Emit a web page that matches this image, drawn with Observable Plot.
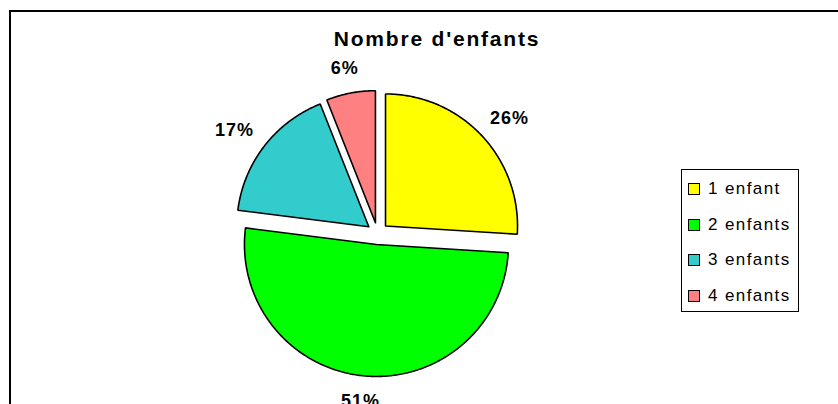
<!DOCTYPE html>
<html>
<head>
<meta charset="utf-8">
<script src="https://cdn.jsdelivr.net/npm/d3@7"></script>
<script src="https://cdn.jsdelivr.net/npm/@observablehq/plot@0.6"></script>
<style>
  body { margin: 0; background: #fff; font-family: Arial, "Liberation Sans", sans-serif; }
  #wrap { position: relative; width: 838px; height: 404px; overflow: hidden; background: #fff; }
  #frame { position: absolute; left: 9px; top: 10px; width: 900px; height: 500px;
           border-left: 2px solid #000; border-top: 2px solid #000; }
  #title { position: absolute; left: 0; width: 874px; top: 27px; text-align: center;
           font-weight: bold; font-size: 21px; letter-spacing: 1.8px; color: #000; }
  #chart { position: absolute; left: 0; top: 0; }
  #chart svg text { letter-spacing: 1px; }
  #legend { position: absolute; left: 681px; top: 169px; width: 116px; height: 141px;
            border: 1px solid #000; background: #fff; }
  .item { position: absolute; left: 0; height: 20px; display: flex; align-items: center;
          font-size: 17px; letter-spacing: 1.4px; color: #000; }
  .sw { width: 10px; height: 10px; border: 1.5px solid #000; margin-left: 6px; margin-right: 8px; }
</style>
</head>
<body>
<div id="wrap">
  <div id="frame"></div>
  <div id="title">Nombre d'enfants</div>
  <div id="chart"></div>
  <div id="legend"></div>
</div>
<script>
const categories = ["1 enfant", "2 enfants", "3 enfants", "4 enfants"];
const shares = [26, 51, 17, 6];
const labels = ["26%", "51%", "17%", "6%"];
const colors = ["#FFFF00", "#00FF00", "#33CCCC", "#FF8080"];

const W = 838, H = 404;
const cx = 377, cy = 233, R = 132, explode = 11;

const rows = categories.map((c, i) => ({cat: c, share: shares[i], label: labels[i]}));
const arcs = d3.pie().sort(null).value(d => d.share)(rows);

const pts = [];
const labelPts = [];
for (const a of arcs) {
  const mid = (a.startAngle + a.endAngle) / 2;
  const ox = explode * Math.sin(mid), oy = -explode * Math.cos(mid);
  pts.push({cat: a.data.cat, x: ox, y: oy});
  const n = Math.max(2, Math.ceil((a.endAngle - a.startAngle) / 0.01));
  for (let k = 0; k <= n; k++) {
    const t = a.startAngle + (a.endAngle - a.startAngle) * k / n;
    pts.push({cat: a.data.cat, x: ox + R * Math.sin(t), y: oy - R * Math.cos(t)});
  }
  pts.push({cat: a.data.cat, x: ox, y: oy});
  const hw = a.data.label.length * 6.5, hh = 7, gap = 18.5;
  labelPts.push({
    label: a.data.label,
    x: (R + explode + gap + hw) * Math.sin(mid),
    y: -(R + explode + gap + hh) * Math.cos(mid)
  });
}

const chart = Plot.plot({
  width: W, height: H,
  margin: 0,
  style: {background: "transparent", overflow: "visible"},
  x: {domain: [-cx, W - cx], range: [0, W], axis: null},
  y: {domain: [-cy, H - cy], range: [0, H], axis: null},
  color: {domain: categories, range: colors},
  marks: [
    Plot.line(pts, {x: "x", y: "y", z: "cat", fill: "cat", stroke: "#000", strokeWidth: 1.6,
                    strokeLinejoin: "miter", curve: "linear"}),
    Plot.text(labelPts, {x: "x", y: "y", text: "label", fontWeight: "bold", fontSize: 18,
                         fill: "#000", fontFamily: "Arial, Liberation Sans, sans-serif"})
  ]
});
document.getElementById("chart").appendChild(chart);

const legend = document.getElementById("legend");
categories.forEach((c, i) => {
  const item = document.createElement("div");
  item.className = "item";
  item.style.top = (9 + i * 35.7) + "px";
  const sw = document.createElement("div");
  sw.className = "sw";
  sw.style.background = colors[i];
  const tx = document.createElement("span");
  tx.textContent = c;
  item.appendChild(sw);
  item.appendChild(tx);
  legend.appendChild(item);
});
</script>
</body>
</html>
